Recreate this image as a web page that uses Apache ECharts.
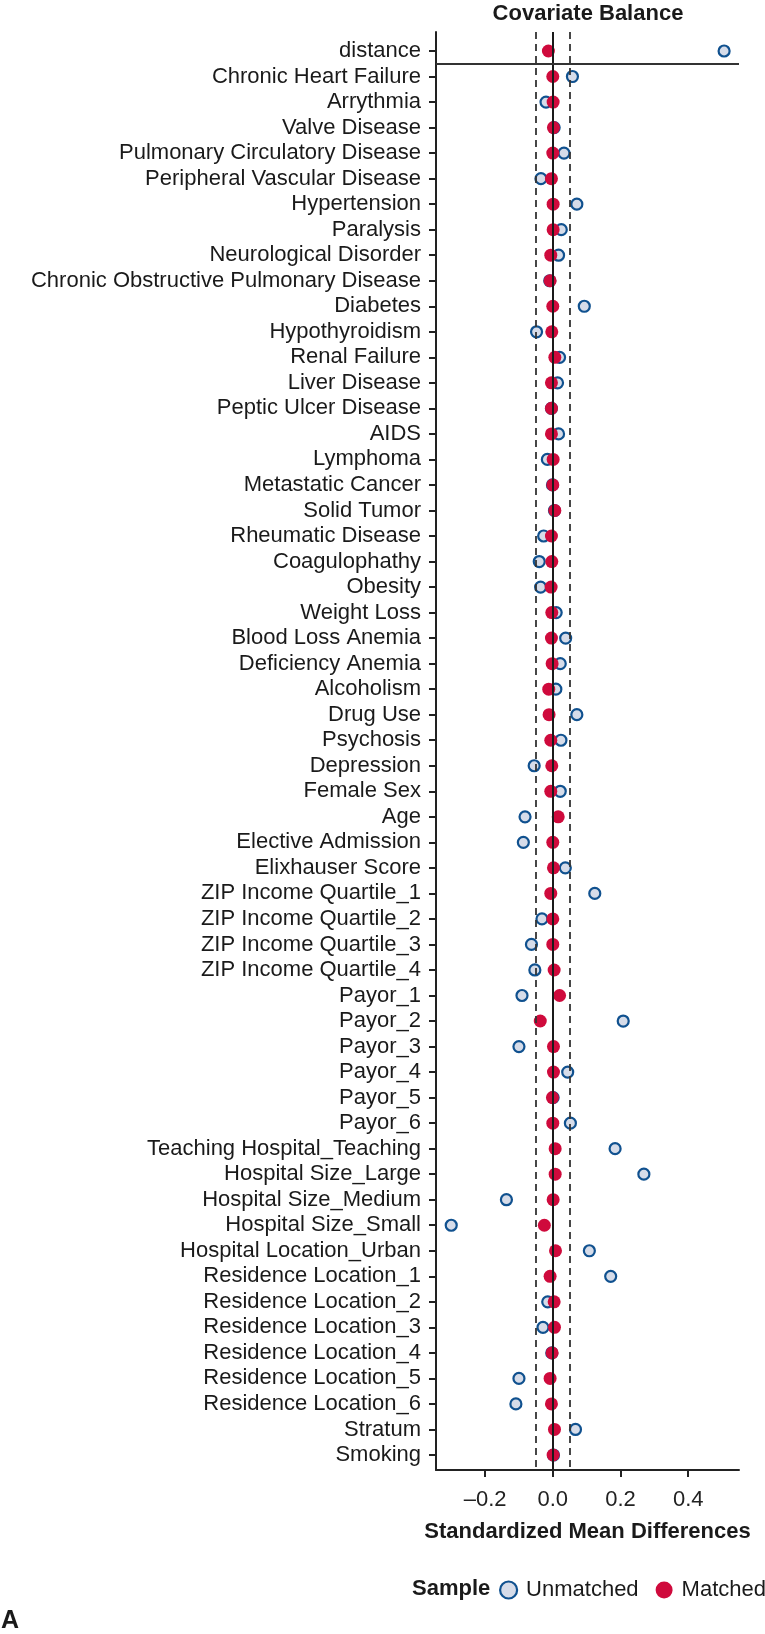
<!DOCTYPE html>
<html>
<head>
<meta charset="utf-8">
<script src="https://cdn.jsdelivr.net/npm/echarts@6/dist/echarts.min.js"></script>
<style>
html,body{margin:0;padding:0;background:#fff;}
#chart{width:765px;height:1634px;}
</style>
</head>
<body>
<div id="chart"></div>
<script>
const categories = [
  "distance","Chronic Heart Failure","Arrythmia","Valve Disease","Pulmonary Circulatory Disease",
  "Peripheral Vascular Disease","Hypertension","Paralysis","Neurological Disorder",
  "Chronic Obstructive Pulmonary Disease","Diabetes","Hypothyroidism","Renal Failure","Liver Disease",
  "Peptic Ulcer Disease","AIDS","Lymphoma","Metastatic Cancer","Solid Tumor","Rheumatic Disease",
  "Coagulophathy","Obesity","Weight Loss","Blood Loss Anemia","Deficiency Anemia","Alcoholism",
  "Drug Use","Psychosis","Depression","Female Sex","Age","Elective Admission","Elixhauser Score",
  "ZIP Income Quartile_1","ZIP Income Quartile_2","ZIP Income Quartile_3","ZIP Income Quartile_4",
  "Payor_1","Payor_2","Payor_3","Payor_4","Payor_5","Payor_6","Teaching Hospital_Teaching",
  "Hospital Size_Large","Hospital Size_Medium","Hospital Size_Small","Hospital Location_Urban",
  "Residence Location_1","Residence Location_2","Residence Location_3","Residence Location_4",
  "Residence Location_5","Residence Location_6","Stratum","Smoking"
];
const unmatched = [
  0.506, 0.058, -0.020, 0.004, 0.033, -0.035, 0.071, 0.025, 0.017, -0.009,
  0.093, -0.048, 0.020, 0.014, -0.004, 0.017, -0.016, -0.001, 0.005, -0.027,
  -0.040, -0.036, 0.010, 0.038, 0.022, 0.009, 0.071, 0.024, -0.055, 0.022,
  -0.082, -0.087, 0.037, 0.124, -0.032, -0.063, -0.053, -0.091, 0.208, -0.100,
  0.044, 0.001, 0.052, 0.184, 0.269, -0.137, -0.300, 0.108, 0.171, -0.015,
  -0.029, -0.003, -0.100, -0.109, 0.067, 0.002
];
const matched = [
  -0.013, 0.000, 0.001, 0.002, 0.000, -0.004, 0.001, 0.001, -0.006, -0.008,
  0.000, -0.003, 0.006, -0.004, -0.004, -0.004, 0.001, 0.000, 0.006, -0.004,
  -0.003, -0.005, -0.003, -0.004, -0.002, -0.012, -0.011, -0.006, -0.003, -0.006,
  0.016, 0.000, 0.002, -0.006, 0.000, 0.000, 0.004, 0.020, -0.037, 0.002,
  0.002, -0.001, 0.000, 0.007, 0.007, 0.001, -0.025, 0.008, -0.008, 0.004,
  0.005, -0.002, -0.008, -0.004, 0.005, 0.001
];
const thresholds = [-0.05, 0.05];
const dividerAfter = 0.5;
const xTicks = [-0.2, 0, 0.2, 0.4];
const xTickLabels = ["\u20130.2", "0.0", "0.2", "0.4"];
const seriesNames = ["Unmatched", "Matched"];

const FONT = "'Liberation Sans', Arial, Helvetica, sans-serif";
const TXT = "#1a1a1a";
const idx = categories.map((_, i) => i);

const chart = echarts.init(document.getElementById('chart'), null, {renderer: 'canvas'});
chart.setOption({
  animation: false,
  backgroundColor: '#ffffff',
  textStyle: {fontFamily: FONT},
  grid: {left: 436, right: 26, top: 32, bottom: 164, containLabel: false},
  xAxis: {
    type: 'value', min: -0.345, max: 0.55,
    name: 'Standardized Mean Differences', nameLocation: 'middle', nameGap: 51,
    nameTextStyle: {fontFamily: FONT, fontSize: 22, fontWeight: 'bold', color: TXT},
    axisLine: {show: true, onZero: false, lineStyle: {color: '#222', width: 2}},
    axisTick: {show: true, length: 7, customValues: xTicks, lineStyle: {color: '#222', width: 2}},
    axisLabel: {customValues: xTicks, margin: 19, fontFamily: FONT, fontSize: 22, color: '#222',
      formatter: v => xTickLabels[xTicks.findIndex(t => Math.abs(t - v) < 1e-9)]},
    splitLine: {show: false}
  },
  yAxis: {
    type: 'value', inverse: true, min: -0.744, max: 55.588,
    axisLine: {show: true, onZero: false, lineStyle: {color: '#222', width: 2}},
    axisTick: {show: true, length: 7, customValues: idx, lineStyle: {color: '#222', width: 2}},
    axisLabel: {customValues: idx, margin: 15, fontFamily: FONT, fontSize: 22, color: TXT,
      formatter: v => categories[Math.round(v)]},
    splitLine: {show: false}
  },
  legend: {
    show: true, orient: 'horizontal', left: 499, top: 1579, width: 300, padding: 0, itemGap: 17,
    itemWidth: 17, itemHeight: 17, icon: 'circle',
    textStyle: {fontFamily: FONT, fontSize: 22, color: TXT, padding: [0, 0, 0, 4]},
    data: [
      {name: seriesNames[0], itemStyle: {color: '#d6dce9', borderColor: '#10518f', borderWidth: 2.2}},
      {name: seriesNames[1], itemStyle: {color: '#cf0a3c', borderWidth: 0}}
    ]
  },
  graphic: [
    {type: 'text', x: 588, y: 14, style: {text: 'Covariate Balance', font: 'bold 22px ' + FONT,
      fill: TXT, textAlign: 'center', textVerticalAlign: 'middle'}},
    {type: 'text', x: 412, y: 1589, style: {text: 'Sample', font: 'bold 22px ' + FONT,
      fill: TXT, textAlign: 'left', textVerticalAlign: 'middle'}},
    {type: 'text', x: 1, y: 1621, style: {text: 'A', font: 'bold 25px ' + FONT,
      fill: TXT, textAlign: 'left', textVerticalAlign: 'middle'}}
  ],
  series: [
    {
      type: 'scatter', name: '_ref', data: [], z: 1, silent: true,
      markLine: {
        silent: true, symbol: 'none', label: {show: false}, animation: false,
        data: [
          {xAxis: 0, lineStyle: {type: 'solid', color: '#1a1a1a', width: 2}},
          {xAxis: thresholds[0], lineStyle: {type: [7, 5], color: '#333', width: 1.8}},
          {xAxis: thresholds[1], lineStyle: {type: [7, 5], color: '#333', width: 1.8}},
          {yAxis: dividerAfter, lineStyle: {type: 'solid', color: '#333', width: 1.8}}
        ]
      }
    },
    {
      type: 'scatter', name: seriesNames[0], z: 2, symbol: 'circle', symbolSize: 11,
      itemStyle: {color: '#d6dce9', borderColor: '#10518f', borderWidth: 2.2, opacity: 1},
      data: unmatched.map((v, i) => [v, i])
    },
    {
      type: 'scatter', name: seriesNames[1], z: 3, symbol: 'circle', symbolSize: 13,
      itemStyle: {color: '#cf0a3c', opacity: 1},
      data: matched.map((v, i) => [v, i])
    }
  ]
});
</script>
</body>
</html>
